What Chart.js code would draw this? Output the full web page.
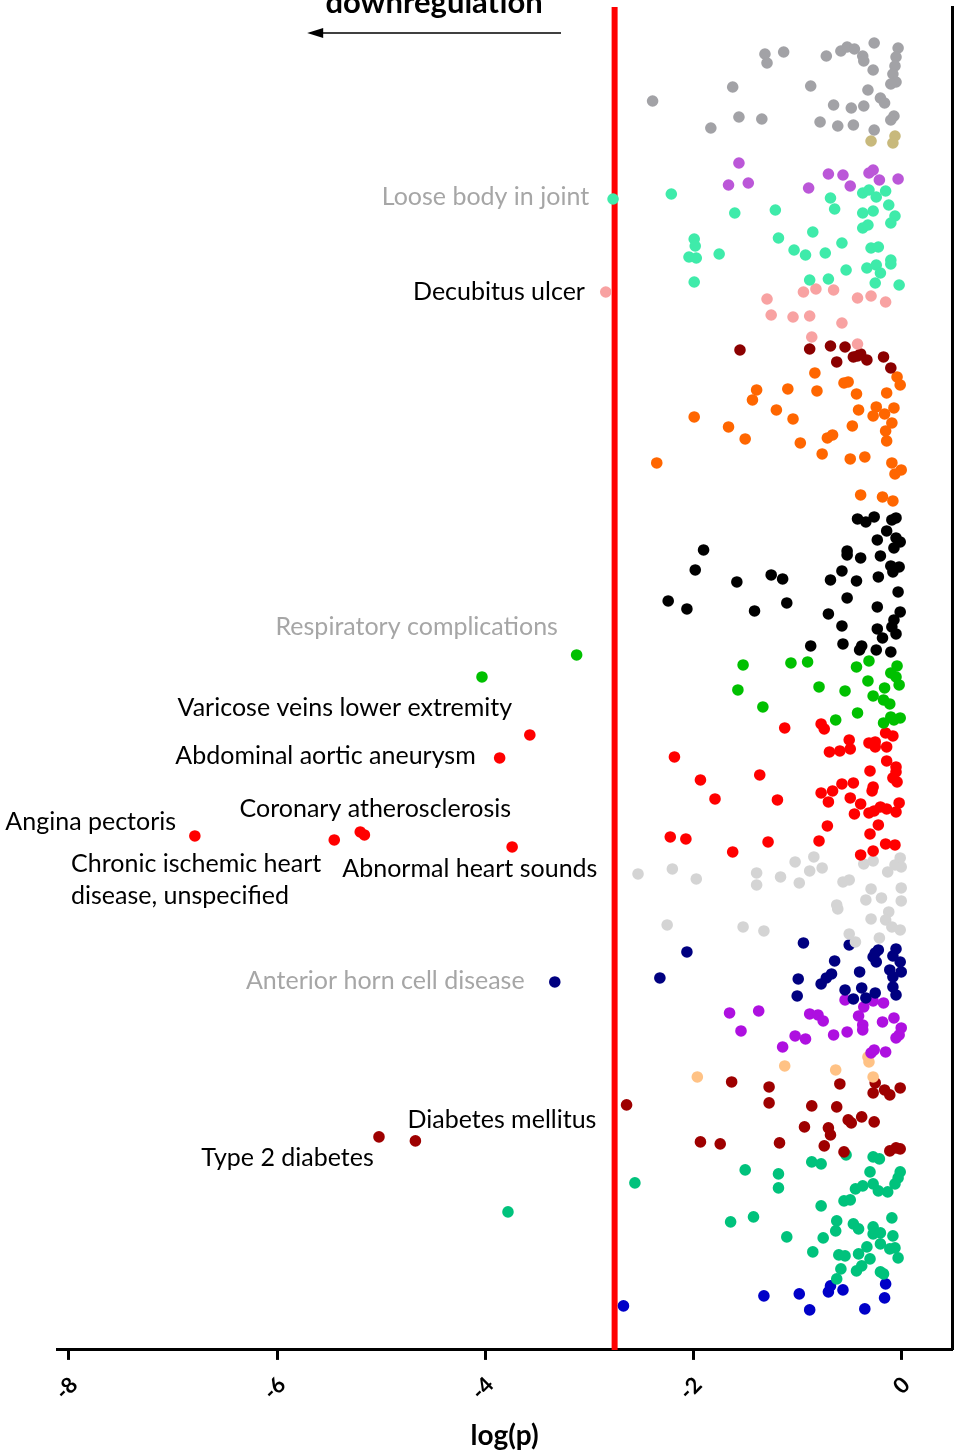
<!DOCTYPE html>
<html>
<head>
<meta charset="utf-8">
<script src="https://cdn.jsdelivr.net/npm/chart.js@4.4.1/dist/chart.umd.min.js"></script>
<style>
  html, body { margin: 0; padding: 0; background: #fff; }
  #wrap { width: 958px; height: 1453px; }
</style>
</head>
<body>
<div id="wrap"><canvas id="phewas"></canvas></div>
<script>
// x = log(p), y = jitter row inside its group (0 = bottom, 134 = top)
const xTicks = [-8, -6, -4, -2, 0];
const cutoff = -2.755;

const grayPts = [[-1.31,129.6],[-1.29,128.7],[-1.13,129.8],[-0.72,129.4],[-0.58,129.9],[-0.52,130.3],[-0.45,130.1],
  [-0.37,129.4],[-0.36,128.9],[-0.26,130.7],[-0.27,128.0],[-0.03,130.2],[-0.05,129.3],[-0.06,128.4],[-0.08,127.6],
  [-0.05,126.8],[-0.10,126.6],[-1.62,126.3],[-2.39,124.9],[-0.87,126.4],[-0.32,126.0],[-0.20,125.2],[-0.16,124.7],
  [-0.65,124.5],[-0.48,124.2],[-0.36,124.4],[-1.56,123.3],[-1.34,123.1],[-1.83,122.2],[-0.78,122.8],[-0.61,122.4],
  [-0.46,122.5],[-0.26,122.0],[-0.07,123.4],[-0.10,123.0]];
const khakiPts = [[-0.29,120.9],[-0.06,121.4],[-0.08,120.7]];
const orchidPts = [[-1.56,118.7],[-1.66,116.5],[-1.47,116.7],[-0.89,116.2],[-0.70,117.6],[-0.56,117.5],[-0.49,116.4],
  [-0.31,117.7],[-0.27,118.0],[-0.21,117.0],[-0.03,117.1]];
const aquaPts = [[-2.77,115.1],[-2.21,115.6],[-1.60,113.7],[-1.21,114.0],[-1.18,111.2],[-1.99,111.1],[-1.98,110.4],
  [-2.04,109.3],[-1.97,109.2],[-1.75,109.6],[-1.03,110.0],[-0.92,109.5],[-0.85,111.8],[-0.73,109.7],[-0.57,110.7],
  [-0.68,115.2],[-0.64,114.1],[-0.37,115.7],[-0.31,116.0],[-0.24,115.3],[-0.15,115.9],[-0.12,114.5],[-0.37,113.7],
  [-0.27,113.9],[-0.06,113.4],[-0.10,112.7],[-0.37,112.2],[-0.32,112.5],[-0.29,110.2],[-0.22,110.3],[-0.10,109.0],
  [-1.99,106.8],[-0.88,107.0],[-0.70,107.1],[-0.53,108.0],[-0.33,108.2],[-0.24,108.5],[-0.20,107.7],[-0.10,108.6],
  [-0.25,106.7],[-0.02,106.5]];
const salmonPts = [[-2.84,105.8],[-1.29,105.1],[-1.25,103.5],[-1.04,103.3],[-0.88,103.4],[-0.94,105.8],[-0.82,106.1],
  [-0.65,106.0],[-0.57,102.7],[-0.42,105.2],[-0.29,105.4],[-0.15,104.8],[-0.86,101.3],[-0.42,100.6]];
const maroonPts = [[-1.55,100.0],[-0.88,100.1],[-0.68,100.4],[-0.54,100.3],[-0.62,98.8],[-0.46,99.3],[-0.39,99.6],
  [-0.33,99.0],[-0.42,99.4],[-0.17,99.3],[-0.10,98.2]];
const orangePts = [[-0.83,97.7],[-1.39,96.0],[-1.43,95.0],[-1.09,96.1],[-0.81,95.9],[-0.55,96.7],[-0.51,96.8],
  [-0.43,95.6],[-0.04,97.3],[-0.01,96.5],[-0.14,95.7],[-1.99,93.3],[-1.20,94.0],[-1.04,93.1],[-1.66,92.3],
  [-1.50,91.1],[-0.41,94.0],[-0.24,94.3],[-0.27,93.4],[-0.16,93.6],[-0.07,94.2],[-0.09,92.7],[-0.47,92.4],
  [-0.15,91.9],[-0.14,90.9],[-0.71,91.2],[-0.66,91.5],[-0.97,90.7],[-0.76,89.6],[-0.49,89.1],[-0.35,89.3],
  [-2.35,88.7],[-0.09,88.7],[0.00,88.0],[-0.06,87.6],[-0.39,85.5],[-0.18,85.3],[-0.08,84.9]];
const blackPts = [[-0.42,83.1],[-0.34,82.8],[-0.26,83.3],[-0.09,83.0],[-0.05,83.2],[-0.14,81.9],[-0.23,81.0],
  [-0.05,81.2],[-0.01,80.8],[-0.07,80.2],[-0.52,79.9],[-0.52,79.5],[-0.39,79.2],[-0.20,79.4],[-1.90,80.0],
  [-1.98,78.0],[-0.10,78.4],[-0.02,78.3],[-0.08,77.8],[-0.57,77.9],[-0.68,77.0],[-0.43,76.9],[-0.22,77.3],
  [-1.58,76.8],[-1.25,77.5],[-1.14,77.1],[-0.03,75.8],[-2.24,74.9],[-2.06,74.1],[-1.41,73.9],[-1.10,74.7],
  [-0.52,75.2],[-0.70,73.6],[-0.23,74.3],[-0.01,73.8],[-0.07,73.0],[-0.09,72.3],[-0.57,72.4],[-0.23,72.1],
  [-0.18,71.2],[-0.05,71.6],[-0.87,70.4],[-0.56,70.6],[-0.38,70.4],[-0.40,70.0],[-0.24,70.0],[-0.10,69.8]];
const greenPts = [[-3.12,69.5],[-4.03,67.3],[-1.52,68.5],[-1.06,68.7],[-0.90,68.8],[-0.43,68.3],[-0.31,68.9],
  [-0.04,68.4],[-0.10,67.7],[-0.05,67.3],[-0.02,66.5],[-0.32,66.9],[-1.57,66.0],[-0.79,66.3],[-0.54,65.9],
  [-0.16,66.2],[-0.27,65.4],[-0.17,65.0],[-1.33,64.3],[-0.63,63.0],[-0.42,63.7],[-0.11,64.6],[-0.10,63.3],
  [-0.01,63.2],[-0.17,62.7],[-0.07,63.0]];
const redPts = [[-3.57,61.5],[-3.86,59.2],[-6.79,51.4],[-5.45,51.0],[-5.20,51.8],[-5.16,51.5],[-3.74,50.3],
  [-1.12,62.2],[-0.77,62.6],[-0.74,62.1],[-2.18,59.3],[-1.93,57.0],[-1.79,55.1],[-1.36,57.5],[-1.19,55.0],
  [-2.22,51.3],[-2.07,51.1],[-1.62,49.8],[-1.28,50.8],[-0.79,50.9],[-0.71,52.4],[-0.77,55.7],[-0.66,55.9],
  [-0.70,54.8],[-0.57,56.6],[-0.46,56.7],[-0.49,55.2],[-0.39,54.6],[-0.45,53.6],[-0.31,53.7],[-0.27,56.3],
  [-0.28,55.9],[-0.30,57.9],[-0.69,59.8],[-0.59,59.9],[-0.50,61.0],[-0.49,60.1],[-0.31,60.7],[-0.25,60.8],
  [-0.25,60.3],[-0.14,60.3],[-0.14,58.9],[-0.15,61.7],[-0.08,61.4],[-0.05,58.3],[-0.05,57.8],[-0.08,57.2],
  [-0.04,56.8],[-0.02,54.7],[-0.05,53.8],[-0.26,53.9],[-0.20,54.3],[-0.14,54.1],[-0.22,52.5],[-0.30,51.6],
  [-0.15,50.6],[-0.06,50.5],[-0.27,49.9],[-0.39,49.5]];
const silverPts = [[-2.53,47.6],[-2.20,48.1],[-1.97,47.1],[-1.39,47.7],[-1.39,46.5],[-1.16,47.3],[-1.02,48.8],
  [-0.98,46.7],[-0.88,47.9],[-0.84,49.3],[-0.76,48.2],[-0.56,46.8],[-0.50,47.0],[-0.36,48.6],[-0.27,48.9],
  [-0.13,47.8],[-0.06,48.5],[-0.01,49.2],[0.00,48.3],[0.00,46.2],[-0.29,46.1],[-0.34,45.0],[-0.19,45.2],
  [0.00,44.9],[-0.62,44.5],[-0.61,44.1],[-0.12,43.8],[-0.29,43.1],[-0.15,43.0],[-2.25,42.5],[-1.52,42.3],
  [-1.32,41.9],[-0.09,42.3],[-0.01,42.0],[-0.50,41.6],[-0.44,40.8],[-0.21,41.2]];
const navyPts = [[-3.33,36.8],[-2.06,39.8],[-2.32,37.2],[-0.94,40.7],[-0.50,40.5],[-0.64,38.9],[-0.99,37.1],
  [-1.00,35.4],[-0.77,36.6],[-0.72,37.2],[-0.67,37.6],[-0.54,36.0],[-0.40,37.8],[-0.38,36.2],[-0.46,35.1],
  [-0.34,35.2],[-0.25,35.7],[-0.25,39.7],[-0.22,40.0],[-0.27,39.3],[-0.24,38.8],[-0.05,40.1],[-0.08,39.4],
  [-0.01,38.8],[-0.11,38.0],[0.00,37.8],[-0.08,37.3],[-0.08,36.3],[-0.05,35.5]];
const violetPts = [[-1.65,33.7],[-1.37,33.9],[-1.54,31.9],[-1.14,30.3],[-1.02,31.4],[-0.92,31.1],[-0.88,33.6],
  [-0.80,33.5],[-0.75,32.9],[-0.65,31.5],[-0.52,31.8],[-0.54,35.0],[-0.36,34.3],[-0.41,33.4],[-0.37,32.5],
  [-0.37,32.0],[-0.27,34.9],[-0.17,34.7],[-0.18,32.8],[-0.07,33.2],[0.00,32.2],[-0.02,31.5],[-0.05,31.2],
  [-0.29,29.7],[-0.26,30.0],[-0.15,29.8]];
const peachPts = [[-1.96,27.3],[-1.12,28.4],[-0.63,28.0],[-0.31,28.8],[-0.32,29.3],[-0.27,27.3]];
const crimsonPts = [[-2.64,24.5],[-5.02,21.3],[-4.67,20.9],[-1.63,26.8],[-1.27,26.3],[-1.27,24.7],[-0.86,24.4],
  [-0.62,24.3],[-0.59,26.6],[-0.93,22.3],[-0.70,22.2],[-0.68,21.5],[-0.51,23.0],[-0.48,22.7],[-0.38,23.3],
  [-0.26,22.8],[-0.25,26.7],[-0.27,25.7],[-0.16,26.0],[-0.11,25.5],[-0.01,26.2],[-1.93,20.8],[-1.74,20.6],
  [-1.17,20.7],[-0.74,20.4],[-0.55,19.8],[-0.11,19.9],[-0.05,20.2],[-0.01,20.1]];
const jadePts = [[-3.78,13.8],[-2.56,16.7],[-1.50,18.0],[-1.18,17.6],[-1.18,16.2],[-0.86,18.8],[-0.77,18.6],
  [-0.53,19.5],[-0.27,19.3],[-0.21,19.1],[-0.30,17.8],[-0.01,17.8],[-0.03,17.2],[-0.06,16.6],[-0.44,16.1],
  [-0.37,16.4],[-0.27,16.6],[-0.22,15.9],[-0.13,15.8],[-0.55,14.9],[-0.49,15.0],[-0.77,14.4],[-1.64,12.8],
  [-1.42,13.3],[-1.10,11.3],[-0.75,11.2],[-0.85,9.8],[-0.62,12.9],[-0.63,11.9],[-0.46,12.6],[-0.41,12.1],
  [-0.27,12.3],[-0.27,11.6],[-0.20,11.7],[-0.09,13.2],[-0.08,11.4],[-0.33,10.3],[-0.20,10.6],[-0.11,10.1],
  [-0.06,10.2],[-0.03,9.2],[-0.60,9.5],[-0.54,9.4],[-0.41,9.6],[-0.30,9.1],[-0.58,8.1],[-0.62,7.1],
  [-0.43,7.9],[-0.38,8.4],[-0.20,7.8],[-0.17,7.6]];
const bluePts = [[-2.67,4.4],[-1.32,5.4],[-0.98,5.6],[-0.88,4.0],[-0.68,6.4],[-0.70,5.8],[-0.56,6.0],
  [-0.35,4.1],[-0.15,6.6],[-0.16,5.2]];

// labelled phenotypes (anchored in data units)
const notes = [
  { text: "Loose body in joint", x: -3.00, y: 115.3, align: "right", muted: true },
  { text: "Decubitus ulcer", x: -3.04, y: 105.8, align: "right" },
  { text: "Respiratory complications", x: -3.30, y: 72.3, align: "right", muted: true },
  { text: "Varicose veins lower extremity", x: -3.74, y: 64.2, align: "right" },
  { text: "Abdominal aortic aneurysm", x: -4.09, y: 59.4, align: "right" },
  { text: "Coronary atherosclerosis", x: -3.75, y: 54.1, align: "right" },
  { text: "Angina pectoris", x: -6.97, y: 52.8, align: "right" },
  { text: "Chronic ischemic heart", x: -7.98, y: 48.6, align: "left" },
  { text: "disease, unspecified", x: -7.98, y: 45.4, align: "left" },
  { text: "Abnormal heart sounds", x: -2.92, y: 48.1, align: "right" },
  { text: "Anterior horn cell disease", x: -3.62, y: 36.9, align: "right", muted: true },
  { text: "Diabetes mellitus", x: -2.93, y: 23.0, align: "right" },
  { text: "Type 2 diabetes", x: -5.07, y: 19.2, align: "right" }
];

const groups = [
  [grayPts, "#A2A2A6"], [khakiPts, "#C8B97C"], [orchidPts, "#BB57D8"], [aquaPts, "#3FEBAA"],
  [salmonPts, "#F8A2A2"], [maroonPts, "#8B0000"], [orangePts, "#FF6600"], [blackPts, "#000000"],
  [greenPts, "#00C000"], [redPts, "#FF0000"], [silverPts, "#D4D4D4"], [navyPts, "#000080"],
  [violetPts, "#AE10E0"], [peachPts, "#FFC285"], [crimsonPts, "#9E0000"], [jadePts, "#00C27C"],
  [bluePts, "#0000C8"]
];

const datasets = groups.map(([pts, col]) => ({
  data: pts.map(p => ({ x: p[0], y: p[1] })),
  backgroundColor: col,
  borderWidth: 0,
  pointRadius: 5.8,
  order: 0
}));
datasets.push({
  type: "line",
  data: [{ x: cutoff, y: 0 }, { x: cutoff, y: 134.3 }],
  borderColor: "#FF0000",
  borderWidth: 6,
  pointRadius: 0,
  order: 1
});

const notesPlugin = {
  id: "notes",
  afterDatasetsDraw(chart) {
    const { ctx, chartArea, scales: { x, y } } = chart;
    ctx.save();
    ctx.font = "25px Lato";
    ctx.textBaseline = "middle";
    notes.forEach(n => {
      ctx.fillStyle = n.muted ? "#A6A6A6" : "#000";
      ctx.textAlign = n.align;
      ctx.fillText(n.text, x.getPixelForValue(n.x), y.getPixelForValue(n.y));
    });
    // direction hint at the top
    const x0 = x.getPixelForValue(-3.27), x1 = x.getPixelForValue(-5.71);
    const ay = chartArea.top + 26;
    ctx.strokeStyle = "#000";
    ctx.lineWidth = 1.5;
    ctx.beginPath();
    ctx.moveTo(x0, ay);
    ctx.lineTo(x1 + 12, ay);
    ctx.stroke();
    ctx.fillStyle = "#000";
    ctx.beginPath();
    ctx.moveTo(x1, ay);
    ctx.lineTo(x1 + 16, ay - 5);
    ctx.lineTo(x1 + 16, ay + 5);
    ctx.closePath();
    ctx.fill();
    ctx.font = "bold 31px Lato";
    ctx.textAlign = "center";
    ctx.textBaseline = "alphabetic";
    ctx.fillText("downregulation", (x0 + x1) / 2, chartArea.top + 6);
    ctx.restore();
  }
};

new Chart(document.getElementById("phewas"), {
  type: "scatter",
  data: { datasets },
  plugins: [notesPlugin],
  options: {
    responsive: true,
    maintainAspectRatio: false,
    animation: false,
    layout: { padding: { top: 7, right: -2, left: 57, bottom: 0 } },
    plugins: { legend: { display: false }, tooltip: { enabled: false } },
    scales: {
      x: {
        type: "linear",
        min: -8.115,
        max: 0.49,
        afterBuildTicks: s => { s.ticks = xTicks.map(v => ({ value: v })); },
        afterFit: s => { s.paddingLeft = 0; s.paddingRight = 0; },
        ticks: {
          color: "#000",
          font: { family: "Lato", size: 22, weight: "bold" },
          minRotation: 45,
          maxRotation: 45,
          labelOffset: 5,
          padding: 12
        },
        grid: { display: true, drawOnChartArea: false, drawTicks: true, tickLength: 10, tickWidth: 3, color: "#000" },
        border: { display: true, width: 3, color: "#000" },
        title: { display: true, text: "log(p)", color: "#000", font: { family: "Lato", size: 28, weight: "bold" }, padding: { top: 2, bottom: 0 } }
      },
      y: {
        type: "linear",
        position: "right",
        min: 0,
        max: 134.3,
        afterFit: s => { s.width = 0; },
        ticks: { display: false },
        grid: { display: false },
        border: { display: true, width: 3, color: "#000" }
      }
    }
  }
});
</script>
</body>
</html>
